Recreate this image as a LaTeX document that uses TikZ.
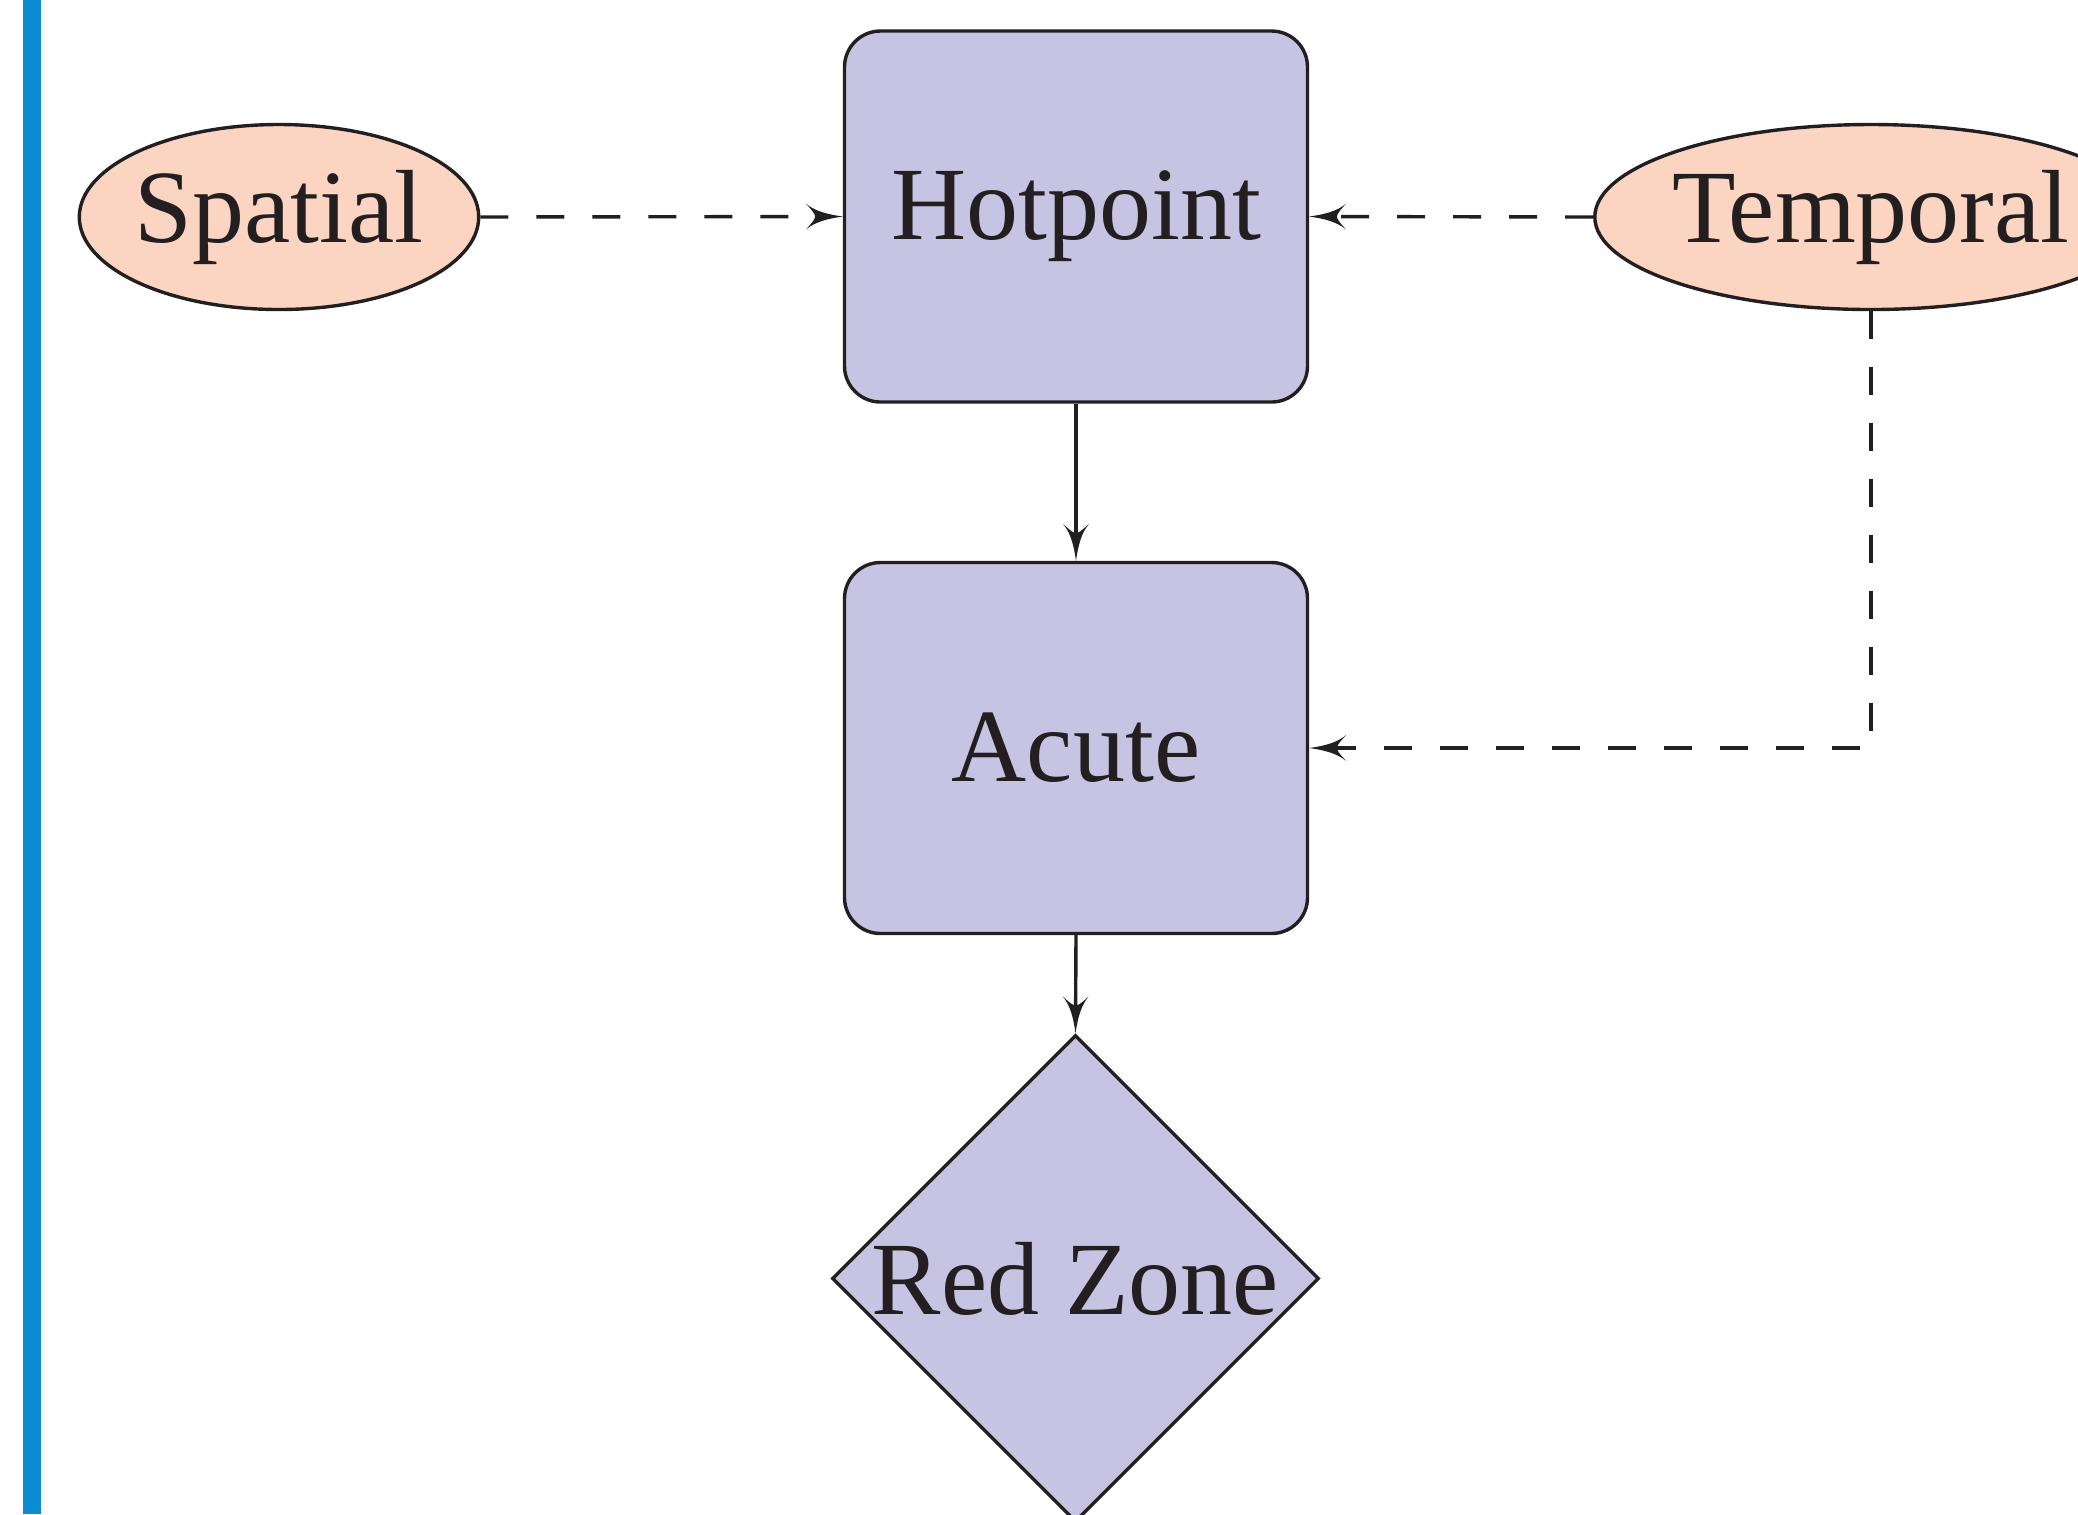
\documentclass[tikz,border=0pt]{standalone}
\usepackage{fontspec}
\setmainfont{Liberation Serif}
\usetikzlibrary{shapes.geometric,arrows.meta}
\definecolor{boxfill}{HTML}{C6C4E2}
\definecolor{ovalfill}{HTML}{FBD4C2}
\definecolor{barblue}{HTML}{0B8BD1}
\definecolor{ink}{HTML}{231F20}
\pgfdeclarearrow{
  name=Concave,
  parameters={\the\pgfarrowlength,\the\pgfarrowwidth},
  setup code={
    \pgfarrowssettipend{0pt}
    \pgfarrowssetlineend{-0.6\pgfarrowlength}
    \pgfarrowssetvisualbackend{-\pgfarrowlength}
    \pgfarrowssetbackend{-\pgfarrowlength}
    \pgfarrowssavethe\pgfarrowlength
    \pgfarrowssavethe\pgfarrowwidth
  },
  drawing code={
    \pgfpathmoveto{\pgfqpoint{0pt}{0pt}}
    \pgfpathcurveto{\pgfqpoint{-0.4\pgfarrowlength}{0.08\pgfarrowwidth}}{\pgfqpoint{-0.75\pgfarrowlength}{0.2\pgfarrowwidth}}{\pgfqpoint{-\pgfarrowlength}{0.5\pgfarrowwidth}}
    \pgfpathcurveto{\pgfqpoint{-0.8\pgfarrowlength}{0.2\pgfarrowwidth}}{\pgfqpoint{-0.75\pgfarrowlength}{0.08\pgfarrowwidth}}{\pgfqpoint{-0.75\pgfarrowlength}{0pt}}
    \pgfpathcurveto{\pgfqpoint{-0.75\pgfarrowlength}{-0.08\pgfarrowwidth}}{\pgfqpoint{-0.8\pgfarrowlength}{-0.2\pgfarrowwidth}}{\pgfqpoint{-\pgfarrowlength}{-0.5\pgfarrowwidth}}
    \pgfpathcurveto{\pgfqpoint{-0.75\pgfarrowlength}{-0.2\pgfarrowwidth}}{\pgfqpoint{-0.4\pgfarrowlength}{-0.08\pgfarrowwidth}}{\pgfqpoint{0pt}{0pt}}
    \pgfpathclose
    \pgfusepathqfill
  },
  defaults={length=9.25pt,width=6.5pt}
}
\tikzset{
  base/.style={draw=ink, line width=0.85pt, inner sep=0pt, font=\fontsize{26}{30}\selectfont, text=ink},
  stepbox/.style={base, fill=boxfill, rectangle, rounded corners=9pt, minimum width=115.75pt, minimum height=92.75pt},
  oval/.style={base, fill=ovalfill, ellipse, inner xsep=-0.8pt, minimum height=46.25pt},
  decide/.style={base, fill=boxfill, diamond, aspect=1, minimum width=121.75pt, minimum height=121.75pt},
  link/.style={draw=ink, line width=0.85pt, -{Concave[length=9.25pt,width=6.5pt]}},
  dlink/.style={link, dash pattern=on 7pt off 7pt}
}
\begin{document}
\begin{tikzpicture}[x=0.25pt,y=-0.25pt]
\useasboundingbox (0,0) rectangle (2078,1514);
\clip (0,0) rectangle (2078,1514);
\fill[barblue] (23,0) rectangle (41,1514);
\node[stepbox] (hot) at (1076,216.5) {Hotpoint};
\node[stepbox] (acute) at (1076,748) {Acute};
\node[decide] (red) at (1075.5,1278.5) {Red Zone};
\node[oval, minimum width=98.75pt] (spat) at (279,217) {Spatial};
\node[oval, minimum width=137.75pt] (temp) at (1871,217) {Temporal};
\draw[dlink] (spat.east) -- (hot.west);
\draw[dlink] (temp.west) -- (hot.east);
\draw[link] (hot.south) -- (acute.north);
\draw[dlink] (temp.south) |- (acute.east);
\draw[link] (acute.south) -- (red.north);
\end{tikzpicture}
\end{document}
